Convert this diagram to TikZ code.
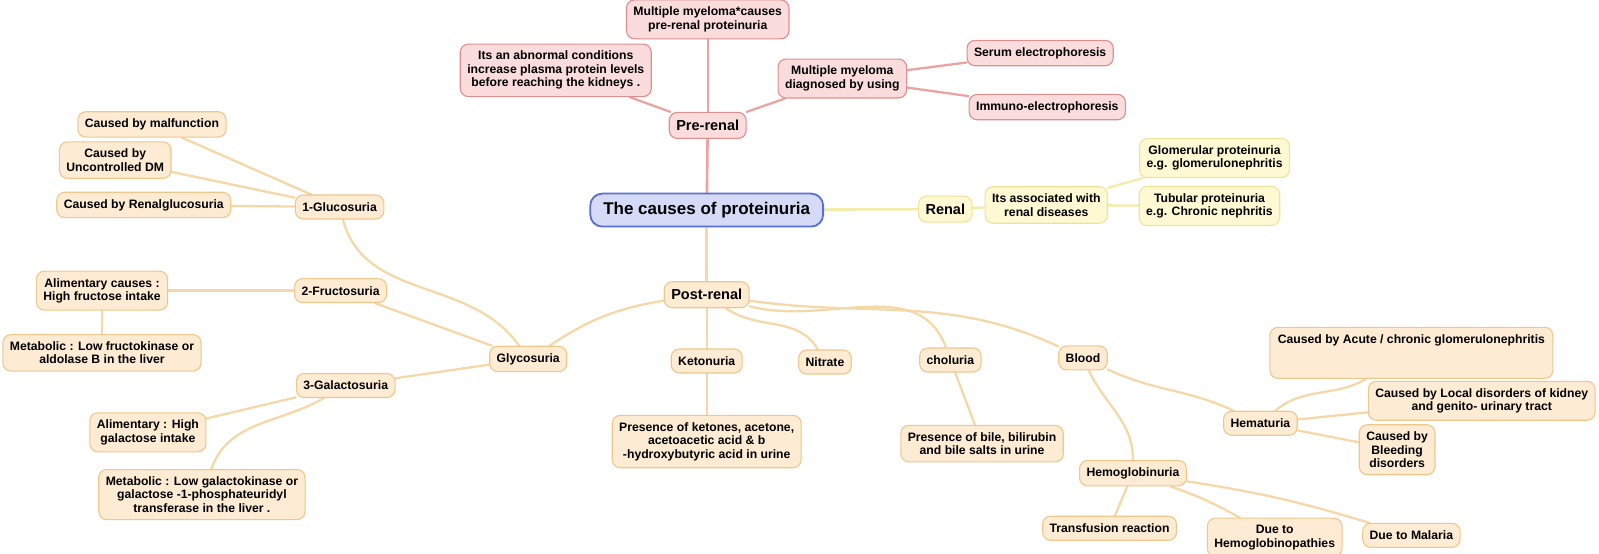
\documentclass[tikz,border=0pt]{standalone}
\usepackage{fontspec}
\setmainfont{Liberation Sans}
\usepackage{xcolor}
\usetikzlibrary{backgrounds}

\definecolor{preFill}{HTML}{FADCDC}
\definecolor{preDraw}{HTML}{DE8E8E}
\definecolor{preLink}{HTML}{E9A3A3}
\definecolor{rootFill}{HTML}{D5DAF7}
\definecolor{rootDraw}{HTML}{5A6ED8}
\definecolor{renFill}{HTML}{FEF9D3}
\definecolor{renDraw}{HTML}{EFE39A}
\definecolor{renLink}{HTML}{F4EBA8}
\definecolor{postFill}{HTML}{FDEBD4}
\definecolor{postDraw}{HTML}{EEC78C}
\definecolor{postLink}{HTML}{F5D8A8}

\tikzset{
  box/.style={draw, rounded corners=8pt, line width=1.1pt, align=center,
    inner xsep=7pt, inner ysep=7pt, minimum height=24pt,
    font=\bfseries\fontsize{12.2}{13.5}\selectfont},
  prebox/.style={box, fill=preFill, draw=preDraw},
  renbox/.style={box, fill=renFill, draw=renDraw},
  postbox/.style={box, fill=postFill, draw=postDraw},
  mainbox/.style={font=\bfseries\fontsize{14.5}{16}\selectfont, minimum height=26pt},
  link/.style={line width=2.3pt, line cap=round},
  prelink/.style={link, draw=preLink},
  renlink/.style={link, draw=renLink},
  postlink/.style={link, draw=postLink},
}

\begin{document}
\begin{tikzpicture}[x=1.0198pt, y=1.0198pt]
\path[use as bounding box] (0,0) rectangle (1568,-543);

% centre
\node[box, fill=rootFill, draw=rootDraw, line width=1.8pt, rounded corners=12pt,
  inner xsep=13pt, minimum height=33pt, font=\bfseries\fontsize{17}{19}\selectfont]
  (root) at (693,-206) {The causes of proteinuria};

% pre-renal branch
\node[prebox, mainbox] (pre) at (694,-123) {Pre-renal};
\node[prebox] (mmc) at (694,-19) {Multiple myeloma*causes\\pre-renal proteinuria};
\node[prebox] (abn) at (545,-69) {Its an abnormal conditions\\increase plasma protein levels\\before reaching the kidneys .};
\node[prebox] (mmd) at (826,-77) {Multiple myeloma\\diagnosed by using};
\node[prebox] (serum) at (1020,-52) {Serum electrophoresis};
\node[prebox] (immuno) at (1027,-105) {Immuno-electrophoresis};

% renal branch
\node[renbox, mainbox] (renal) at (927,-205) {Renal};
\node[renbox] (assoc) at (1026,-201) {Its associated with\\renal diseases};
\node[renbox] (glom) at (1191,-155) {Glomerular proteinuria\\e.g. glomerulonephritis};
\node[renbox] (tub) at (1186,-202) {Tubular proteinuria\\e.g. Chronic nephritis};

% post-renal branch
\node[postbox, mainbox] (post) at (693,-289) {Post-renal};
\node[postbox] (glyco) at (518,-352) {Glycosuria};
\node[postbox] (gluc) at (333,-203) {1-Glucosuria};
\node[postbox] (malf) at (149,-122) {Caused by malfunction};
\node[postbox] (undm) at (113,-157) {Caused by\\Uncontrolled DM};
\node[postbox] (rgluc) at (141,-201) {Caused by Renalglucosuria};
\node[postbox] (fruc) at (334,-285) {2-Fructosuria};
\node[postbox] (alim) at (100,-285) {Alimentary causes :\\High fructose intake};
\node[postbox] (metf) at (100,-346) {Metabolic : Low fructokinase or\\aldolase B in the liver};
\node[postbox] (galac) at (339,-378) {3-Galactosuria};
\node[postbox] (alimg) at (145,-424) {Alimentary : High\\galactose intake};
\node[postbox] (metg) at (198,-485) {Metabolic : Low galactokinase or\\galactose -1-phosphateuridyl\\transferase in the liver .};
\node[postbox] (keto) at (693,-354) {Ketonuria};
\node[postbox] (pket) at (693,-433) {Presence of ketones, acetone,\\acetoacetic acid \& b\\-hydroxybutyric acid in urine};
\node[postbox] (nitr) at (809,-355) {Nitrate};
\node[postbox] (chol) at (932,-353) {choluria};
\node[postbox] (pbile) at (963,-435) {Presence of bile, bilirubin\\and bile salts in urine};
\node[postbox] (blood) at (1062,-351) {Blood};
\node[postbox] (hemat) at (1236,-415) {Hematuria};
\node[postbox, minimum width=283pt, minimum height=51pt] (acute) at (1384,-346)
  {Caused by Acute / chronic glomerulonephritis\\[14pt]~};
\node[postbox] (local) at (1453,-393) {Caused by Local disorders of kidney\\and genito- urinary tract};
\node[postbox] (bleed) at (1370,-441) {Caused by\\Bleeding\\disorders};
\node[postbox] (hemog) at (1111,-464) {Hemoglobinuria};
\node[postbox] (transf) at (1088,-518) {Transfusion reaction};
\node[postbox] (hemop) at (1250,-527) {Due to\\Hemoglobinopathies};
\node[postbox] (malar) at (1384,-525) {Due to Malaria};

% connectors behind the boxes
\begin{scope}[on background layer]
\draw[prelink, line width=2.6pt] (root) -- (pre);
\draw[renlink, line width=2.6pt] (root) -- (renal);
\draw[postlink, line width=2.6pt] (root) -- (post);
\foreach \a/\b in {pre/mmc, pre/abn, pre/mmd, mmd/serum, mmd/immuno}
  \draw[prelink] (\a) -- (\b);
\foreach \a/\b in {renal/assoc, assoc/tub, assoc/glom}
  \draw[renlink] (\a) -- (\b);
\foreach \a/\b in {post/keto, keto/pket, chol/pbile, glyco/galac, galac/alimg,
  gluc/malf, gluc/undm, gluc/rgluc, fruc/alim, alim/metf, hemat/local, hemat/bleed,
  hemog/transf}
  \draw[postlink] (\a) -- (\b);
\draw[postlink] (post) to[bend right=12] (glyco);
\draw[postlink] (post) to[out=-35, in=120] (nitr);
\draw[postlink] (post) to[out=-15, in=110] (chol);
\draw[postlink] (post) to[out=-8, in=155] (blood);
\draw[postlink] (glyco) to[out=125, in=-75] (gluc);
\draw[postlink] (glyco) to[out=160, in=-20] (fruc);
\draw[postlink] (galac) to[out=-150, in=70] (metg);
\draw[postlink] (blood) to[out=-25, in=155] (hemat);
\draw[postlink] (blood) to[out=-65, in=90] (hemog);
\draw[postlink] (hemat) to[out=40, in=-150] (acute);
\draw[postlink] (hemog) to[bend left=5] (hemop);
\draw[postlink] (hemog) to[bend left=4] (malar);
\end{scope}
\end{tikzpicture}
\end{document}
